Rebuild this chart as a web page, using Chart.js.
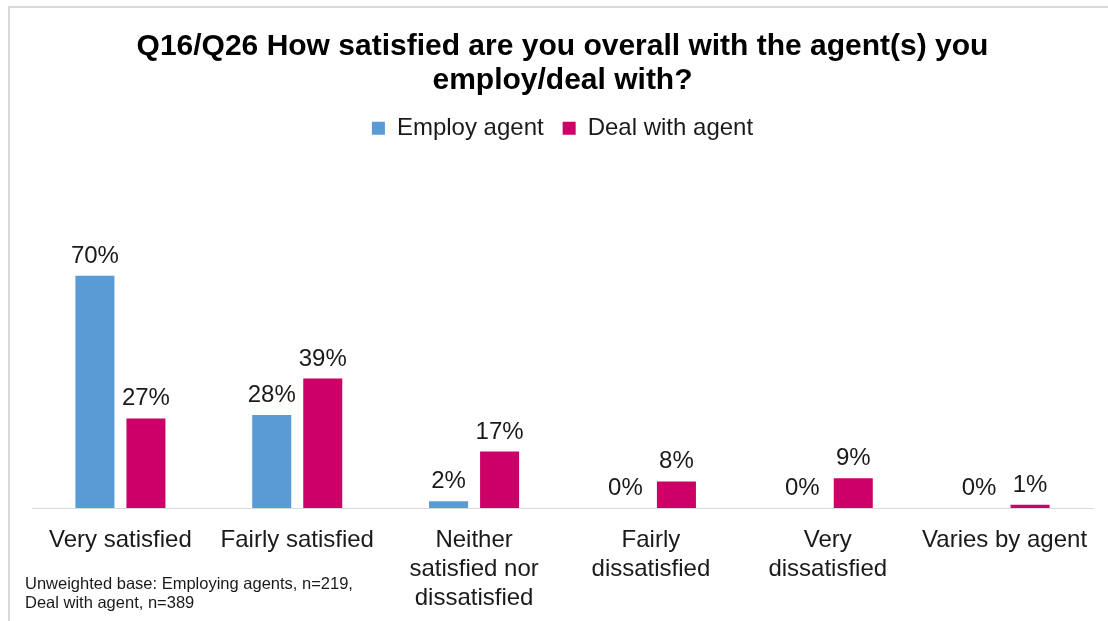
<!DOCTYPE html>
<html>
<head>
<meta charset="utf-8">
<script src="https://cdn.jsdelivr.net/npm/chart.js@4/dist/chart.umd.min.js"></script>
<style>
  html, body { margin: 0; padding: 0; background: #ffffff; overflow: hidden; }
  #wrap { position: relative; width: 1108px; height: 621px; }
  #frame { position: absolute; left: 8px; top: 6px; width: 1200px; height: 700px;
           border-left: 2px solid #d9d9d9; border-top: 2px solid #d9d9d9; pointer-events: none; }
  canvas { position: absolute; left: 0; top: 0; }
</style>
</head>
<body>
<div id="wrap">
  <canvas id="c" width="1108" height="621"></canvas>
  <div id="frame"></div>
</div>
<script>
const titleLines = ['Q16/Q26 How satisfied are you overall with the agent(s) you', 'employ/deal with?'];
const categories = [
  ['Very satisfied'],
  ['Fairly satisfied'],
  ['Neither', 'satisfied nor', 'dissatisfied'],
  ['Fairly', 'dissatisfied'],
  ['Very', 'dissatisfied'],
  ['Varies by agent']
];
const seriesNames = ['Employ agent', 'Deal with agent'];
const employAgent = [70, 28, 2, 0, 0, 0];
const dealWithAgent = [27, 39, 17, 8, 9, 1];
const footnoteLines = ['Unweighted base: Employing agents, n=219,', 'Deal with agent, n=389'];

const FONT = "'Liberation Sans', Arial, sans-serif";
const TEXT = '#1a1a1a';

const dataLabels = {
  id: 'dataLabels',
  afterDatasetsDraw(chart) {
    const ctx = chart.ctx;
    ctx.save();
    ctx.font = '24px ' + FONT;
    ctx.fillStyle = TEXT;
    ctx.textAlign = 'center';
    ctx.textBaseline = 'alphabetic';
    chart.data.datasets.forEach((ds, di) => {
      const meta = chart.getDatasetMeta(di);
      meta.data.forEach((bar, i) => {
        ctx.fillText(ds.data[i] + '%', bar.x, bar.y - 13);
      });
    });
    ctx.restore();
  }
};

const footnote = {
  id: 'footnote',
  afterDraw(chart) {
    const ctx = chart.ctx;
    ctx.save();
    ctx.font = '16.5px ' + FONT;
    ctx.fillStyle = TEXT;
    ctx.textAlign = 'left';
    ctx.textBaseline = 'alphabetic';
    footnoteLines.forEach((t, i) => ctx.fillText(t, 25, 589 + i * 19));
    ctx.restore();
  }
};

const legendHeight = {
  id: 'legendHeight',
  beforeLayout(chart) {
    const lg = chart.legend;
    if (lg && !lg._patched) {
      const orig = lg.fit;
      lg.fit = function () { orig.call(this); this.height = 147; };
      lg._patched = true;
    }
  }
};

new Chart(document.getElementById('c'), {
  type: 'bar',
  data: {
    labels: categories,
    datasets: [
      { label: seriesNames[0], data: employAgent, backgroundColor: '#5B9BD5', borderWidth: 0,
        categoryPercentage: 0.577, barPercentage: 0.765 },
      { label: seriesNames[1], data: dealWithAgent, backgroundColor: '#CC0066', borderWidth: 0,
        categoryPercentage: 0.577, barPercentage: 0.765 }
    ]
  },
  options: {
    responsive: false,
    animation: false,
    layout: { padding: { left: 32, right: 15, top: 0, bottom: 0 } },
    plugins: {
      title: {
        display: true,
        text: titleLines,
        color: '#000000',
        font: { family: FONT, size: 30, weight: 'bold', lineHeight: 1.12 },
        padding: { top: 30, bottom: 0 }
      },
      legend: {
        display: true,
        position: 'top',
        labels: {
          color: TEXT,
          font: { family: FONT, size: 24 },
          boxWidth: 13,
          boxHeight: 13,
          padding: 19
        }
      },
      tooltip: { enabled: false }
    },
    scales: {
      x: {
        grid: { display: false, drawTicks: false },
        border: { display: true, color: '#d9d9d9', width: 1 },
        ticks: {
          color: TEXT,
          font: { family: FONT, size: 24, lineHeight: 1.2 },
          padding: 18,
          maxRotation: 0,
          minRotation: 0,
          autoSkip: false
        },
        afterFit(scale) { scale.height = 113; }
      },
      y: {
        display: false,
        min: 0,
        max: 79.5
      }
    }
  },
  plugins: [legendHeight, dataLabels, footnote]
});
</script>
</body>
</html>
